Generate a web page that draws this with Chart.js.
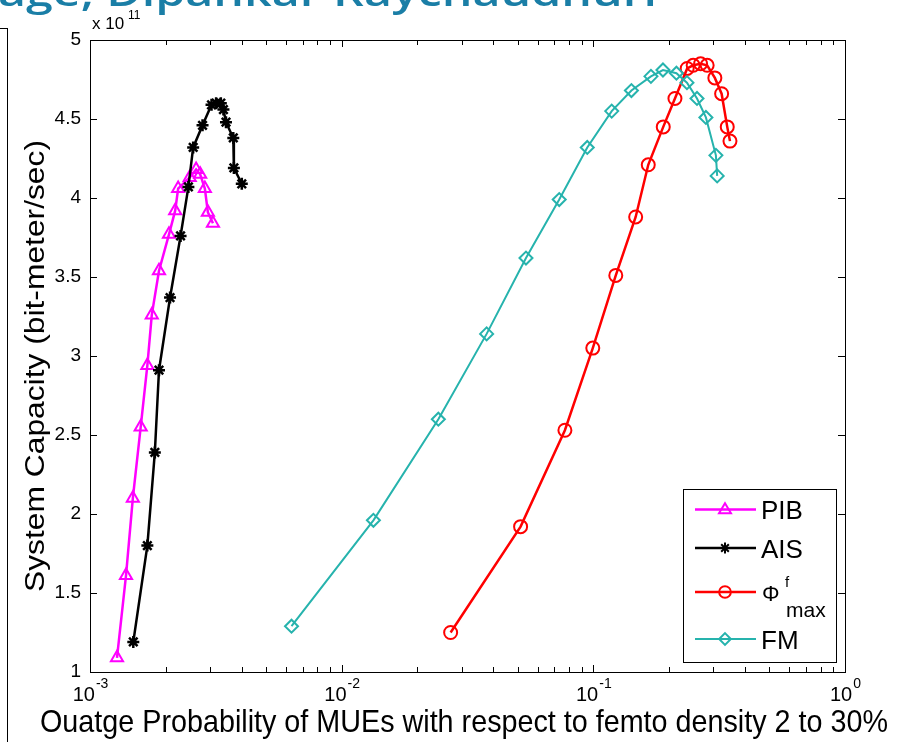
<!DOCTYPE html>
<html lang="en">
  <head>
    <meta charset="UTF-8" />
    <title>System Capacity vs Outage</title>
    <script src="https://cdn.jsdelivr.net/npm/chart.js"></script>
    <style>
      html, body { margin: 0; padding: 0; background: #fff; overflow: hidden; }
      #wrap { position: relative; width: 904px; height: 742px; }
      #head {
        position: absolute; left: -2px; top: -28px; white-space: nowrap;
        font-family: "Open Sans", sans-serif; font-size: 38px; line-height: 38px; font-weight: 600;
        color: #1a7ea6; transform-origin: 0 0;
      }
      #frame {
        position: absolute; left: -10px; top: 28px; width: 17px; height: 730px;
        border-top: 1.5px solid #000; border-right: 1.5px solid #000;
      }
    </style>
  </head>
  <body>
    <div id="wrap">
      <div id="head">age, Dipankar Raychaudhuri</div>
      <div id="frame"></div>
      <canvas id="myChart"></canvas>
    </div>

    <script>
      // values (y in units of 1e11 bit-meter/sec)
      const pibX = [0.00128, 0.00139, 0.00148, 0.00159, 0.00169, 0.00176, 0.00188, 0.00206, 0.00218, 0.00224, 0.00249, 0.00264, 0.00274, 0.00286, 0.00294, 0.00308];
      const pibY = [1.09, 1.61, 2.10, 2.55, 2.94, 3.26, 3.54, 3.77, 3.92, 4.06, 4.13, 4.18, 4.15, 4.06, 3.91, 3.84];

      const aisX = [0.001486, 0.00169, 0.00181, 0.00188, 0.00208, 0.00229, 0.00246, 0.00257, 0.0028, 0.00304, 0.00317, 0.00331, 0.00339, 0.00347, 0.00371, 0.00373, 0.00401];
      const aisY = [1.19, 1.80, 2.39, 2.91, 3.37, 3.76, 4.07, 4.32, 4.46, 4.59, 4.60, 4.60, 4.56, 4.48, 4.38, 4.19, 4.09];

      const phiX = [0.0271, 0.0514, 0.0771, 0.0995, 0.1228, 0.1473, 0.1653, 0.1896, 0.211, 0.236, 0.2493, 0.2668, 0.2833, 0.304, 0.3234, 0.3405, 0.3491];
      const phiY = [1.25, 1.92, 2.53, 3.05, 3.51, 3.88, 4.21, 4.45, 4.63, 4.82, 4.84, 4.85, 4.84, 4.76, 4.66, 4.45, 4.36];

      const fmX = [0.00632, 0.01337, 0.02422, 0.03767, 0.054, 0.0732, 0.0946, 0.1183, 0.1417, 0.1694, 0.1891, 0.2139, 0.2355, 0.2582, 0.2801, 0.3069, 0.3105];
      const fmY = [1.29, 1.96, 2.60, 3.14, 3.62, 3.99, 4.32, 4.55, 4.68, 4.77, 4.81, 4.79, 4.73, 4.63, 4.51, 4.27, 4.14];

      // tick labels
      const xTickValues = [0.001, 0.01, 0.1, 1];
      const xTickExp = ["-3", "-2", "-1", "0"];
      const yTickValues = [1, 1.5, 2, 2.5, 3, 3.5, 4, 4.5, 5];
      const yTickLabels = ["1", "1.5", "2", "2.5", "3", "3.5", "4", "4.5", "5"];

      const xTitle = "Ouatge Probability of MUEs with respect to femto density 2 to 30%";
      const yTitle = "System Capacity (bit-meter/sec)";

      const FONT = '"Liberation Sans", Arial, sans-serif';

      // header sized to the width seen in the picture
      const head = document.getElementById("head");
      head.style.transform = "scaleX(" + (659 / head.getBoundingClientRect().width) + ")";

      const toPts = (xs, ys) => xs.map((x, i) => ({ x: x, y: ys[i] }));

      const series = [
        { label: "PIB", xs: pibX, ys: pibY, color: "#ff00ff", style: "triangle", r: 7, lw: 2.5, order: 4 },
        { label: "AIS", xs: aisX, ys: aisY, color: "#000000", style: "star", r: 6, lw: 2.5, order: 3 },
        { label: "PHI", xs: phiX, ys: phiY, color: "#ff0000", style: "circle", r: 6.5, lw: 2.5, order: 2 },
        { label: "FM", xs: fmX, ys: fmY, color: "#26b3ad", style: "rectRot", r: 6.5, lw: 2, order: 1 },
      ];

      // draw text squeezed/stretched to a width
      function fitText(ctx, str, x, y, size, width) {
        ctx.font = size + "px " + FONT;
        const k = width / ctx.measureText(str).width;
        ctx.save();
        ctx.translate(x, y);
        ctx.scale(k, 1);
        ctx.textAlign = "center";
        ctx.textBaseline = "alphabetic";
        ctx.fillText(str, 0, 0);
        ctx.restore();
      }

      function marker(ctx, style, x, y, r) {
        ctx.beginPath();
        if (style === "triangle") {
          ctx.moveTo(x, y - r);
          ctx.lineTo(x + r * 0.95, y + r * 0.6);
          ctx.lineTo(x - r * 0.95, y + r * 0.6);
          ctx.closePath();
        } else if (style === "circle") {
          ctx.arc(x, y, r, 0, Math.PI * 2);
        } else if (style === "rectRot") {
          ctx.moveTo(x, y - r); ctx.lineTo(x + r, y); ctx.lineTo(x, y + r); ctx.lineTo(x - r, y); ctx.closePath();
        } else {
          for (let i = 0; i < 4; i++) {
            const a = i * Math.PI / 4;
            ctx.moveTo(x + Math.cos(a) * r, y + Math.sin(a) * r);
            ctx.lineTo(x - Math.cos(a) * r, y - Math.sin(a) * r);
          }
        }
        ctx.stroke();
      }

      const matlabAxes = {
        id: "matlabAxes",
        afterDatasetsDraw(chart) {
          const ctx = chart.ctx;
          const a = chart.chartArea;
          const sx = chart.scales.x, sy = chart.scales.y;
          ctx.save();
          ctx.strokeStyle = "#000";
          ctx.fillStyle = "#000";
          ctx.lineWidth = 1;
          ctx.strokeRect(a.left + 0.5, a.top + 0.5, a.right - a.left, a.bottom - a.top);

          // x ticks (major + minor), inward on bottom and top
          ctx.beginPath();
          for (let d = -3; d <= 0; d++) {
            for (let m = 1; m <= 9; m++) {
              if (d === 0 && m > 1) break;
              const px = Math.round(sx.getPixelForValue(m * Math.pow(10, d))) + 0.5;
              const len = m === 1 ? 7 : 5;
              ctx.moveTo(px, a.bottom); ctx.lineTo(px, a.bottom - len);
              ctx.moveTo(px, a.top); ctx.lineTo(px, a.top + len);
            }
          }
          // y ticks, inward on left and right
          yTickValues.forEach((v) => {
            const py = Math.round(sy.getPixelForValue(v)) + 0.5;
            ctx.moveTo(a.left, py); ctx.lineTo(a.left + 7, py);
            ctx.moveTo(a.right, py); ctx.lineTo(a.right - 7, py);
          });
          ctx.stroke();

          // y tick labels
          ctx.font = "19px " + FONT;
          ctx.textAlign = "right";
          ctx.textBaseline = "middle";
          yTickValues.forEach((v, i) => {
            ctx.fillText(yTickLabels[i], a.left - 9, sy.getPixelForValue(v));
          });

          // x tick labels 10^n
          ctx.textAlign = "left";
          ctx.textBaseline = "alphabetic";
          xTickValues.forEach((v, i) => {
            const px = sx.getPixelForValue(v);
            ctx.font = "20px " + FONT;
            const w1 = ctx.measureText("10").width;
            ctx.font = "14px " + FONT;
            const w2 = ctx.measureText(xTickExp[i]).width;
            const x0 = px - (w1 + w2) / 2;
            ctx.font = "20px " + FONT;
            ctx.fillText("10", x0, a.bottom + 29);
            ctx.font = "14px " + FONT;
            ctx.fillText(xTickExp[i], x0 + w1 + 1, a.bottom + 16);
          });

          // exponent marker
          ctx.font = "17px " + FONT;
          ctx.fillText("x 10", a.left + 2, a.top - 11);
          ctx.font = "12px " + FONT;
          ctx.fillText("11", a.left + 38, a.top - 21);

          // axis titles
          fitText(ctx, xTitle, 464, 732, 32, 848);
          ctx.save();
          ctx.translate(44, 366);
          ctx.rotate(-Math.PI / 2);
          fitText(ctx, yTitle, 0, 0, 27, 452);
          ctx.restore();

          // legend box
          const L = { x0: 683, y0: 489, x1: 836, y1: 662 };
          ctx.fillStyle = "#fff";
          ctx.fillRect(L.x0, L.y0, L.x1 - L.x0, L.y1 - L.y0);
          ctx.strokeRect(L.x0 + 0.5, L.y0 + 0.5, L.x1 - L.x0, L.y1 - L.y0);
          const rowsY = [509.5, 548, 592, 639];
          series.forEach((s, i) => {
            const y = rowsY[i];
            ctx.strokeStyle = s.color;
            ctx.lineWidth = s.lw;
            ctx.beginPath();
            ctx.moveTo(695, y); ctx.lineTo(756, y);
            ctx.stroke();
            ctx.fillStyle = "#fff";
            ctx.lineWidth = 2;
            marker(ctx, s.style, 725, y, s.r * 0.9);
          });
          ctx.fillStyle = "#000";
          ctx.textAlign = "left";
          ctx.font = "26px " + FONT;
          ctx.fillText("PIB", 761, 519);
          ctx.fillText("AIS", 761, 557.5);
          ctx.fillText("FM", 761, 648.5);
          ctx.font = "22px " + FONT;
          ctx.fillText("\u03A6", 762, 601);
          ctx.font = "15px " + FONT;
          ctx.fillText("f", 785, 587);
          ctx.font = "21px " + FONT;
          ctx.fillText("max", 786, 617);
          ctx.restore();
        },
      };

      const datasets = series.map((s) => ({
        label: s.label,
        data: toPts(s.xs, s.ys),
        showLine: true,
        borderColor: s.color,
        borderWidth: s.lw,
        backgroundColor: "rgba(0,0,0,0)",
        pointStyle: s.style,
        pointRadius: s.r,
        pointBorderWidth: s.style === "star" ? 2.5 : 2,
        pointBorderColor: s.color,
        pointBackgroundColor: "rgba(0,0,0,0)",
        tension: 0,
        order: s.order,
      }));

      const ctx = document.querySelector("#myChart").getContext("2d");
      const myChart = new Chart(ctx, {
        type: "scatter",
        data: { datasets: datasets },
        options: {
          responsive: true,
          maintainAspectRatio: false,
          animation: false,
          layout: { padding: { top: 40, right: 59, left: 0, bottom: 0 } },
          plugins: { legend: { display: false }, tooltip: { enabled: false } },
          scales: {
            x: {
              type: "logarithmic",
              min: 0.001,
              max: 1,
              ticks: { display: false },
              grid: { display: false },
              border: { display: false },
              afterFit: (s) => { s.height = 70; },
            },
            y: {
              type: "linear",
              min: 1,
              max: 5,
              ticks: { display: false, stepSize: 0.5 },
              grid: { display: false },
              border: { display: false },
              afterFit: (s) => { s.width = 90; },
            },
          },
        },
        plugins: [matlabAxes],
      });
    </script>
  </body>
</html>
